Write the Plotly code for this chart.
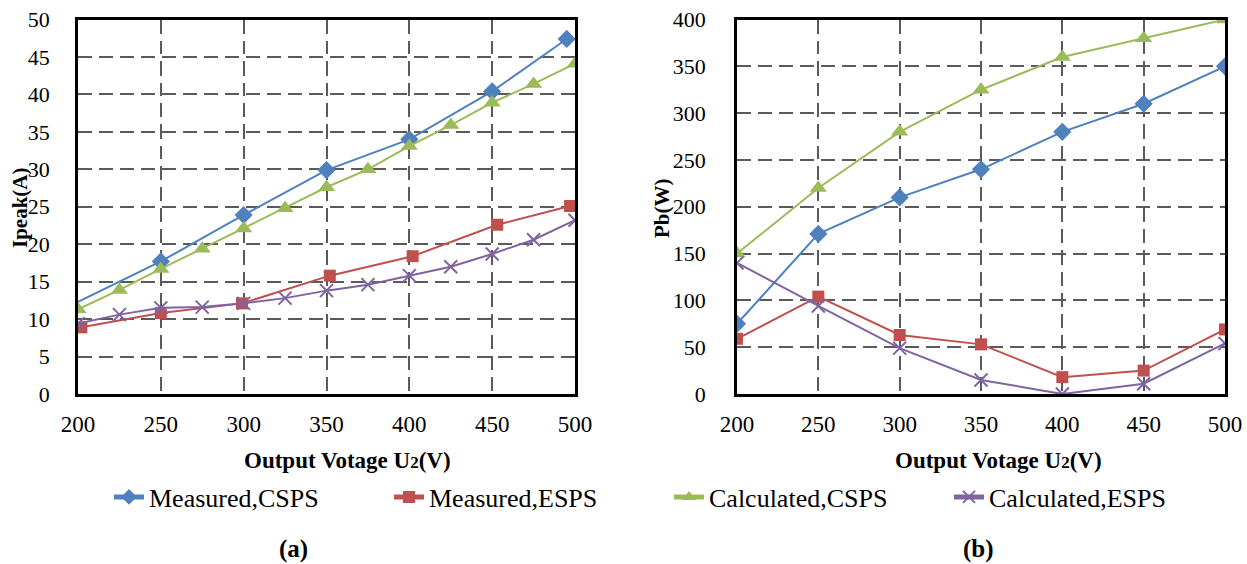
import plotly.graph_objects as go

# ---- data: panel (a) Ipeak ----
a_meas_csps_x = [200, 250, 300, 350, 400, 450, 495]
a_meas_csps_y = [12.3, 17.7, 23.9, 29.9, 34.0, 40.4, 47.4]
a_meas_esps_x = [202, 250, 299, 352, 402, 453, 497]
a_meas_esps_y = [8.9, 10.8, 12.1, 15.8, 18.4, 22.6, 25.1]
a_calc_x = [200, 225, 250, 275, 300, 325, 350, 375, 400, 425, 450, 475, 500]
a_calc_csps_y = [11.3, 13.9, 16.7, 19.4, 22.1, 24.8, 27.6, 30.0, 33.1, 35.9, 38.9, 41.4, 44.1]
a_calc_esps_y = [9.4, 10.6, 11.5, 11.6, 12.1, 12.8, 13.8, 14.6, 15.8, 17.0, 18.7, 20.6, 23.2]

# ---- data: panel (b) Pb ----
b_x = [200, 250, 300, 350, 400, 450, 500]
b_meas_csps_y = [75, 171, 210, 240, 280, 310, 350]
b_meas_esps_y = [59, 104, 63, 53, 18, 25, 69]
b_calc_csps_y = [150, 220, 280, 325, 360, 380, 400]
b_calc_esps_y = [140, 94, 49, 15, 0, 11, 54]

x_ticks = [200, 250, 300, 350, 400, 450, 500]
names = ["Measured,CSPS", "Measured,ESPS", "Calculated,CSPS", "Calculated,ESPS"]
colors = ["#4F81BD", "#C0504D", "#9BBB59", "#8064A2"]
symbols = ["diamond", "square", "triangle-up", "x-thin"]
msizes = [14, 12, 15, 13]

FONT = "Liberation Serif"

fig = go.Figure()

def add(x, y, i, xa, ya, show, sizes=None):
    marker = dict(symbol=symbols[i], size=sizes if sizes is not None else msizes[i],
                  color=colors[i], opacity=1)
    if symbols[i] == "x-thin":
        marker["line"] = dict(color=colors[i], width=2)
    else:
        marker["line"] = dict(width=0)
    fig.add_trace(go.Scatter(x=x, y=y, mode="lines+markers", name=names[i],
                             line=dict(color=colors[i], width=2), marker=marker,
                             xaxis=xa, yaxis=ya, showlegend=show, legendgroup=names[i]))

blue_sizes = [0] + [msizes[0]] * (len(a_meas_csps_x) - 1)
add(a_meas_csps_x, a_meas_csps_y, 0, "x", "y", True, blue_sizes)
add(a_meas_esps_x, a_meas_esps_y, 1, "x", "y", True)
add(a_calc_x, a_calc_csps_y, 2, "x", "y", True)
add(a_calc_x, a_calc_esps_y, 3, "x", "y", True)

add(b_x, b_meas_csps_y, 0, "x2", "y2", False)
add(b_x, b_meas_esps_y, 1, "x2", "y2", False)
add(b_x, b_calc_csps_y, 2, "x2", "y2", False)
add(b_x, b_calc_esps_y, 3, "x2", "y2", False)

W, H = 1247, 564
ydom = [1 - 394 / H, 1 - 19.5 / H]

xtitle = '<b>Output Votage U<span style="font-size:17px">2</span>(V)</b>'

common_x = dict(range=[200, 500], tickvals=x_ticks, showgrid=True, gridcolor="#5a5a5a",
                griddash="14px,7px", gridwidth=2, showline=True, linecolor="black",
                linewidth=2.5, mirror=True, zeroline=False, ticks="",
                tickfont=dict(family=FONT, size=23, color="black"),
                ticklabelstandoff=8, automargin=False)
common_y = dict(showgrid=True, gridcolor="#5a5a5a", griddash="14px,7px", gridwidth=2,
                showline=True, linecolor="black", linewidth=2.5, mirror=True,
                zeroline=False, ticks="", tickfont=dict(family=FONT, size=22, color="black"),
                automargin=False, domain=ydom)

ytitle_y = 1 - 208 / H
xtitle_y = 1 - 460 / H
ann_font = dict(family=FONT, size=21, color="black")

fig.update_layout(
    width=W, height=H,
    margin=dict(l=0, r=0, t=0, b=0),
    paper_bgcolor="white", plot_bgcolor="white",
    font=dict(family=FONT, color="black"),
    xaxis=dict(common_x, domain=[78 / W, 575 / W], anchor="y"),
    yaxis=dict(common_y, range=[0, 50], dtick=5, anchor="x", ticklabelstandoff=21),
    xaxis2=dict(common_x, domain=[737 / W, 1225 / W], anchor="y2"),
    yaxis2=dict(common_y, range=[0, 400], dtick=50, anchor="x2", ticklabelstandoff=24),
    legend=dict(orientation="h", x=109 / W, xanchor="left", y=1 - 497 / H, yanchor="middle",
                font=dict(family=FONT, size=26, color="black"), entrywidth=235,
                entrywidthmode="pixels", bgcolor="rgba(0,0,0,0)", itemsizing="constant"),
    annotations=[
        dict(text="<b>Ipeak(A)</b>", x=20 / W, y=ytitle_y, xref="paper", yref="paper",
             xanchor="center", yanchor="middle", textangle=-90, showarrow=False, font=ann_font),
        dict(text="<b>Pb(W)</b>", x=662 / W, y=ytitle_y, xref="paper", yref="paper",
             xanchor="center", yanchor="middle", textangle=-90, showarrow=False, font=ann_font),
        dict(text=xtitle, x=347 / W, y=xtitle_y, xref="paper", yref="paper",
             xanchor="center", yanchor="middle", showarrow=False,
             font=dict(family=FONT, size=23, color="black")),
        dict(text=xtitle, x=998 / W, y=xtitle_y, xref="paper", yref="paper",
             xanchor="center", yanchor="middle", showarrow=False,
             font=dict(family=FONT, size=23, color="black")),
        dict(text="<b>(a)</b>", x=293 / W, y=1 - 549 / H, xref="paper", yref="paper",
             xanchor="center", yanchor="middle", showarrow=False,
             font=dict(family=FONT, size=25, color="black")),
        dict(text="<b>(b)</b>", x=979 / W, y=1 - 549 / H, xref="paper", yref="paper",
             xanchor="center", yanchor="middle", showarrow=False,
             font=dict(family=FONT, size=25, color="black")),
    ],
)

fig.write_html("out.html")
